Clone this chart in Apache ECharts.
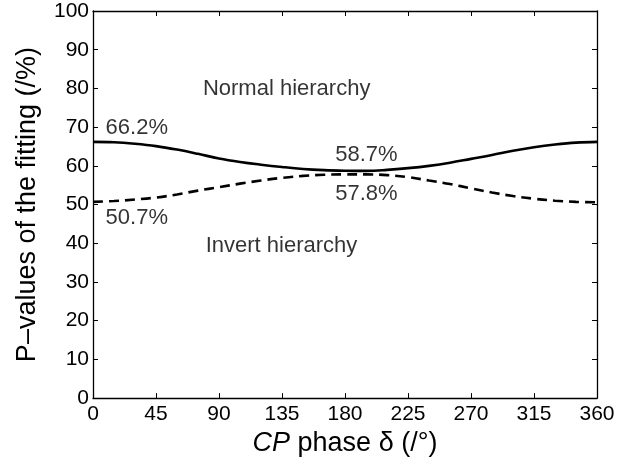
<!DOCTYPE html>
<html><head><meta charset="utf-8">
<script src="https://cdn.jsdelivr.net/npm/echarts@6/dist/echarts.min.js"></script>
<style>html,body{margin:0;padding:0;background:#fff}#c{width:642px;height:462px}</style>
</head><body><div id="c"></div>
<script>
const phases = [0,15,30,45,60,75,90,105,120,135,150,165,180,195,210,225,240,255,270,285,300,315,330,345,360];
const normalVals = [66.2,66.1,65.7,65.1,64.2,63.1,61.9,61.0,60.3,59.7,59.2,58.9,58.75,58.7,58.95,59.4,60.0,60.8,61.8,62.8,63.9,64.8,65.5,66.0,66.2];
const invertVals = [50.7,50.9,51.3,51.8,52.6,53.6,54.5,55.4,56.2,56.9,57.4,57.7,57.8,57.8,57.6,57.1,56.2,55.3,54.2,53.1,52.2,51.5,51.0,50.7,50.6];
const xTicks = [0,45,90,135,180,225,270,315,360];
const annotations = [
  {text:'Normal hierarchy', x:78.5, y:79.9},
  {text:'Invert hierarchy', x:80.5, y:39.4},
  {text:'66.2%', x:9.0, y:69.9},
  {text:'58.7%', x:173.0, y:62.7},
  {text:'57.8%', x:173.0, y:52.8},
  {text:'50.7%', x:9.0, y:46.5}
];
const font = 'Liberation Sans, Arial, sans-serif';
const chart = echarts.init(document.getElementById('c'), null, {renderer:'canvas'});
const axisLine = {show:true, onZero:false, lineStyle:{color:'#000', width:1.3}};
const tick = {show:true, inside:true, length:5, lineStyle:{color:'#000', width:1}};
chart.setOption({
  animation:false,
  backgroundColor:'#fff',
  grid:{left:93, right:45, top:11, bottom:62, containLabel:false},
  xAxis:[{
    type:'value', min:0, max:360, interval:45, position:'bottom',
    axisLine, axisTick:tick, splitLine:{show:false},
    axisLabel:{color:'#000', fontSize:21, fontFamily:font, margin:6},
    name:'{i|CP} phase δ (/°)', nameLocation:'middle', nameGap:29,
    nameTextStyle:{color:'#000', fontSize:27, fontFamily:font,
      rich:{i:{fontStyle:'italic', fontSize:27, fontFamily:font, color:'#000'}}}
  },{
    type:'value', min:0, max:360, interval:45, position:'top',
    axisLine, axisTick:tick, axisLabel:{show:false}, splitLine:{show:false}
  }],
  yAxis:[{
    type:'value', min:0, max:100, interval:10, position:'left',
    axisLine, axisTick:tick, splitLine:{show:false},
    axisLabel:{color:'#000', fontSize:21, fontFamily:font, margin:4},
    name:'P\u2013values of the fitting (/%)', nameLocation:'middle', nameGap:52,
    nameTextStyle:{color:'#000', fontSize:27, fontFamily:font}
  },{
    type:'value', min:0, max:100, interval:10, position:'right',
    axisLine, axisTick:tick, axisLabel:{show:false}, splitLine:{show:false}
  }],
  series:[
    {type:'line', data:phases.map((p,i)=>[p,normalVals[i]]), smooth:0.4, showSymbol:false,
     lineStyle:{color:'#000', width:2.6}},
    {type:'line', data:phases.map((p,i)=>[p,invertVals[i]]), smooth:0.4, showSymbol:false,
     lineStyle:{color:'#000', width:2.6, type:[10,6]}},
    {type:'scatter', symbolSize:0, data:annotations.map(a=>({value:[a.x,a.y], name:a.text})),
     label:{show:true, position:'right', distance:0, formatter:p=>p.name, color:'#000', fontSize:22, fontFamily:font}}
  ]
});
</script></body></html>
